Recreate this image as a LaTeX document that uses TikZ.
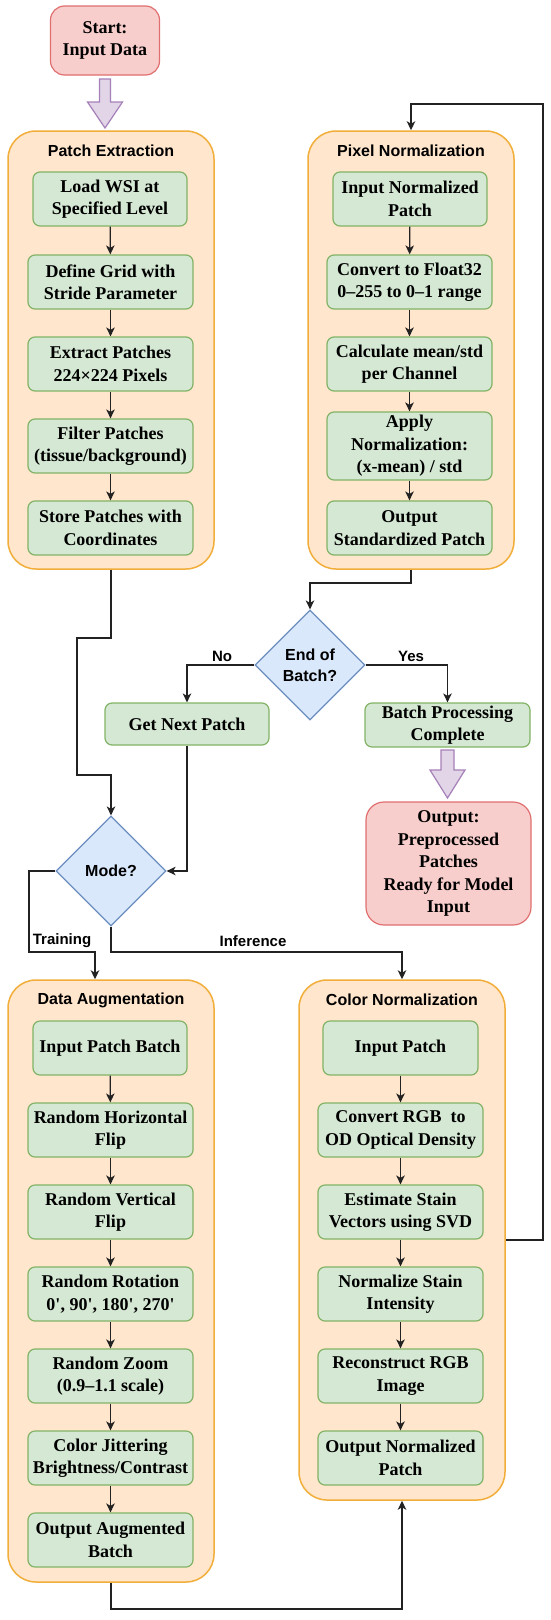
\documentclass[tikz,border=0pt]{standalone}
\usepackage{fontspec}
\setmainfont{Liberation Serif}
\setsansfont{Liberation Sans}
\usetikzlibrary{arrows.meta,shapes.geometric,calc}
\definecolor{contfill}{HTML}{FFE6CC}
\definecolor{contdraw}{HTML}{F2AE3A}
\definecolor{gfill}{HTML}{D5E8D4}
\definecolor{gdraw}{HTML}{82B366}
\definecolor{rfill}{HTML}{F8CECC}
\definecolor{rdraw}{HTML}{E07070}
\definecolor{bfill}{HTML}{DAE8FC}
\definecolor{bdraw}{HTML}{6C8EBF}
\definecolor{pfill}{HTML}{E1D5E7}
\definecolor{pdraw}{HTML}{A680B8}
\definecolor{linec}{HTML}{222222}
\tikzset{
  cont/.style={draw=contdraw, fill=contfill, line width=1.5pt, rounded corners=28pt, inner sep=0pt},
  gbox/.style={draw=gdraw, fill=gfill, line width=1.2pt, rounded corners=7pt, align=center,
    font=\bfseries\fontsize{18}{22.5}\selectfont, inner sep=0pt},
  rbox/.style={draw=rdraw, fill=rfill, line width=1.2pt, rounded corners=14pt, align=center,
    font=\bfseries\fontsize{18}{22.5}\selectfont, inner sep=0pt},
  dec/.style={diamond, draw=bdraw, fill=bfill, line width=1.2pt, align=center, inner sep=0pt,
    minimum width=110pt, minimum height=110pt, font=\sffamily\bfseries\fontsize{16}{21}\selectfont},
  ctitle/.style={font=\sffamily\bfseries\fontsize{16}{19}\selectfont, inner sep=0pt},
  lbl/.style={font=\sffamily\bfseries\fontsize{15}{18}\selectfont, inner sep=0pt},
  conn/.style={draw=linec, line width=1.3pt, -{Stealth[length=9pt,width=8.5pt,inset=2.5pt]}},
  parrow/.style={draw=pdraw, fill=pfill, line width=1.2pt, line join=miter},
  wA/.style={minimum width=154pt, minimum height=54pt},
  wB/.style={minimum width=165pt, minimum height=54pt}
}
\begin{document}
\begin{tikzpicture}[x=1pt,y=-1pt]
\fill[white] (0,0) rectangle (550,1620);
\useasboundingbox (0,0) rectangle (550,1620);

% containers
\node[cont, minimum width=206pt, minimum height=438pt] (pe) at (111,350) {};
\node[cont, minimum width=206pt, minimum height=438pt] (pix) at (411,350) {};
\node[cont, minimum width=206pt, minimum height=602pt] (da) at (111,1281) {};
\node[cont, minimum width=206pt, minimum height=520pt] (cn) at (402,1240) {};

\node[ctitle] (t1) at (111,151) {Patch Extraction};
\node[ctitle] (t2) at (411,151) {Pixel Normalization};
\node[ctitle] (t3) at (111,1000) {Data Augmentation};
\node[ctitle] (t4) at (402,1000) {Color Normalization};

% start
\node[rbox, minimum width=109pt, minimum height=69pt] (start) at (105,40.5) {Start:\\Input Data};
\draw[parrow] (99.5,79) -- (110.5,79) -- (110.5,102) -- (122.5,102) -- (105,128) -- (87.5,102) -- (99.5,102) -- cycle;

% patch extraction
\node[gbox, wA] (p1) at (110,199) {Load WSI at\\Specified Level};
\node[gbox, wB] (p2) at (110.5,282) {Define Grid with\\Stride Parameter};
\node[gbox, wB] (p3) at (110.5,364) {Extract Patches\\224×224 Pixels};
\node[gbox, wB] (p4) at (110.5,446) {Filter Patches\\(tissue/background)};
\node[gbox, wB] (p5) at (110.5,528) {Store Patches with\\Coordinates};
\foreach \a/\b in {p1/p2,p2/p3,p3/p4,p4/p5} \draw[conn] (\a) -- (\b);

% pixel normalization
\node[gbox, wA] (q1) at (410,199) {Input Normalized\\Patch};
\node[gbox, wB] (q2) at (409.5,282) {Convert to Float32\\0–255 to 0–1 range};
\node[gbox, wB] (q3) at (409.5,364) {Calculate mean/std\\per Channel};
\node[gbox, minimum width=165pt, minimum height=68pt] (q4) at (409.5,446) {Apply\\Normalization:\\(x-mean) / std};
\node[gbox, wB] (q5) at (409.5,528) {Output\\Standardized Patch};
\foreach \a/\b in {q1/q2,q2/q3,q3/q4,q4/q5} \draw[conn] (\a) -- (\b);

% decisions
\node[dec] (eob) at (310,665) {End of\\Batch?};
\node[dec] (mode) at (111,871) {Mode?};

\node[gbox, minimum width=164pt, minimum height=42pt] (gn) at (187,724) {Get Next Patch};
\node[gbox, minimum width=165pt, minimum height=44pt] (bp) at (447.5,725) {Batch Processing\\Complete};
\draw[parrow] (441,750) -- (454,750) -- (454,770) -- (465,770) -- (447.5,798) -- (430,770) -- (441,770) -- cycle;
\node[rbox, minimum width=165pt, minimum height=123pt, rounded corners=18pt] (out) at (448.5,863.5)
  {Output:\\Preprocessed\\Patches\\Ready for Model\\Input};

% data augmentation
\node[gbox, wA] (a1) at (110,1048) {Input Patch Batch};
\node[gbox, wB] (a2) at (110.5,1130) {Random Horizontal\\Flip};
\node[gbox, wB] (a3) at (110.5,1212) {Random Vertical\\Flip};
\node[gbox, wB] (a4) at (110.5,1294) {Random Rotation\\0\textquotesingle, 90\textquotesingle, 180\textquotesingle, 270\textquotesingle};
\node[gbox, wB] (a5) at (110.5,1376) {Random Zoom\\(0.9–1.1 scale)};
\node[gbox, wB] (a6) at (110.5,1458) {Color Jittering\\Brightness/Contrast};
\node[gbox, wB] (a7) at (110.5,1540) {Output Augmented\\Batch};
\foreach \a/\b in {a1/a2,a2/a3,a3/a4,a4/a5,a5/a6,a6/a7} \draw[conn] (\a) -- (\b);

% color normalization
\node[gbox, minimum width=155pt, minimum height=54pt] (c1) at (400.5,1048) {Input Patch};
\node[gbox, wB] (c2) at (400.5,1130) {Convert RGB~ to\\OD Optical Density};
\node[gbox, wB] (c3) at (400.5,1212) {Estimate Stain\\Vectors using SVD};
\node[gbox, wB] (c4) at (400.5,1294) {Normalize Stain\\Intensity};
\node[gbox, wB] (c5) at (400.5,1376) {Reconstruct RGB\\Image};
\node[gbox, wB] (c6) at (400.5,1458) {Output Normalized\\Patch};
\foreach \a/\b in {c1/c2,c2/c3,c3/c4,c4/c5,c5/c6} \draw[conn] (\a) -- (\b);

% connectors
\draw[conn] (pe.south) -- (111,638) -- (77,638) -- (77,775) -- (111,775) -- (mode.north);
\draw[conn] (pix.south) -- (411,583) -| (eob.north);
\draw[conn] (eob.west) -| (gn.north);
\draw[conn] (eob.east) -| (bp.north);
\node[lbl] (no) at (222,656) {No};
\node[lbl] (yes) at (411,656) {Yes};
\draw[conn] (gn.south) |- (mode.east);
\draw[conn] (mode.west) -- (29,871) -- (29,952) -- (95,952) -- ($(da.north)+(-16,0)$);
\node[lbl] (tr) at (62,941) {Training};
\draw[conn] (mode.south) -- (111,952) -| (cn.north);
\node[lbl] (inf) at (253,941) {Inference};
\draw[conn] (da.south) -- (111,1609) -| (cn.south);
\draw[conn] (cn.east) -- (543,1240) -- (543,104) -| (pix.north);
\end{tikzpicture}
\end{document}
